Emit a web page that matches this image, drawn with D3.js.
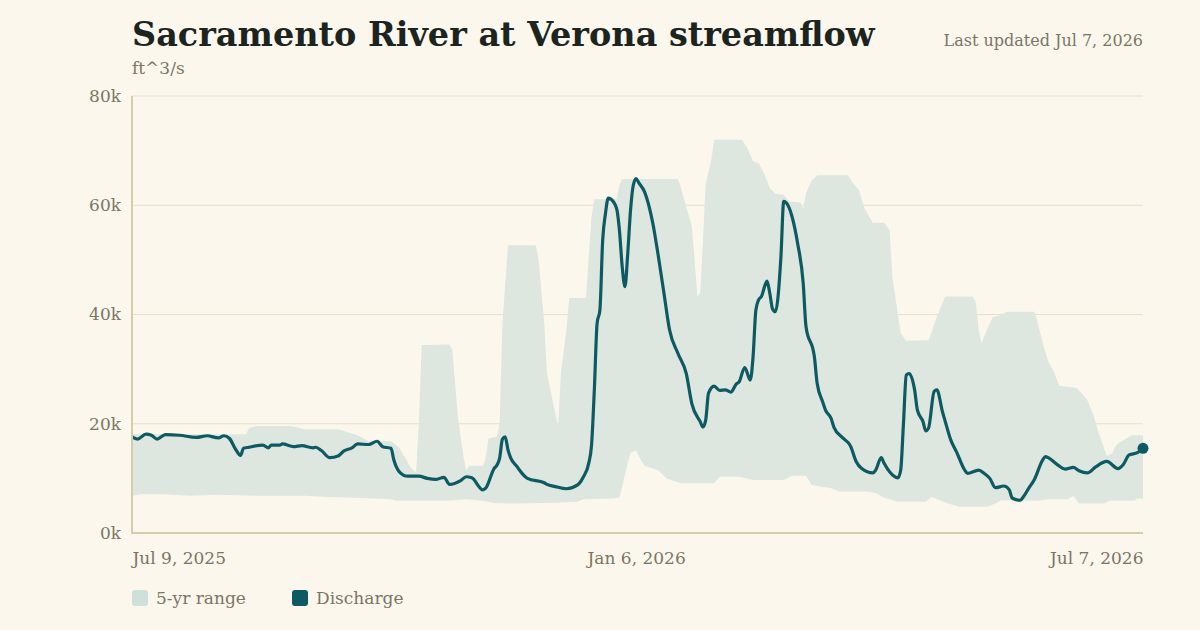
<!DOCTYPE html>
<html>
<head>
<meta charset="utf-8">
<title>Sacramento River at Verona streamflow</title>
<style>
html, body { margin:0; padding:0; background:#fbf7ed; overflow:hidden; }
svg { display:block; }
text { font-family: Georgia, "DejaVu Serif", serif; }
</style>
</head>
<body>
<svg id="stage" width="1200" height="630"></svg>
<script src="https://cdn.jsdelivr.net/npm/d3@7"></script>
<script>

// days since Jul 9, 2025 and discharge in ft^3/s
var startDate = "2025-07-09";
var flowDays = [0,2,5,7,9,12,17,23,27,31,33,35,37,39,40,42,47,49,50,53,54,58,61,65,66,68,71,74,76,79,81,85,88,90,93,94,96,99,103,106,109,112,114,118,120,122,126,127,130,131,132,133,134,135,136,138,141,142,148,149,152,156,160,162,164,165,166,167,168,169,170,171,172,174,175,176,177,178,179,180,181,182,184,187,189,191,193,196,199,201,204,205,206,207,209,211,213,215,217,218,220,222,223,224,225,226,228,229,230,231,233,234,235,237,239,241,242,245,246,248,249,251,252,255,258,260,262,266,267,269,270,272,275,276,277,278,279,281,282,284,285,286,288,289,291,292,294,296,299,300,304,306,308,310,313,315,316,319,320,322,324,327,328,329,332,335,338,340,343,346,350,354,356,358,361,363];
var flowCfs = [17600,17200,18100,17900,17200,18000,17900,17500,17800,17400,17800,17300,15500,14200,15500,15700,16100,15600,16100,16100,16300,15800,16000,15600,15700,15100,13800,14100,15000,15600,16300,16200,16800,15800,15500,13400,11200,10400,10400,10000,9800,10200,8900,9600,10300,10100,7900,8200,11800,12400,13700,17200,17600,15200,13700,12300,10400,10000,9200,8900,8500,8100,8800,10200,12800,16100,26200,38400,40800,53600,58500,61300,61100,59400,55500,48800,45100,51200,59100,63700,64900,64100,62500,56700,50600,43900,37200,32900,29200,23700,20400,19400,20700,25600,26900,26100,26200,25800,27300,27700,30300,28000,32300,40800,42700,43300,46100,43900,41000,40500,50600,60700,60400,57900,53000,45700,37800,32300,27400,24000,22500,21000,19400,17500,15900,13100,11800,11000,11500,13800,12800,11200,10100,11500,20100,28900,29200,26200,22500,20400,18700,19200,25900,26200,22200,20400,17000,14900,11500,10900,11500,10900,10000,8300,8600,7900,6400,6000,6600,8200,9800,13400,14000,13800,12600,11700,12000,11400,11000,12100,13100,11800,12600,14300,14700,15500];

// 5-yr range, upper and lower edges
var highDays = [0,34,41,42,45,57,62,74,81,85,93,96,100,102,103,104,114,115,117,119,120,121,126,127,128,131,132,133,135,145,146,148,149,151,153,154,156,157,163,164,165,166,174,175,176,196,197,199,201,202,203,204,205,206,208,209,219,221,223,225,227,229,231,234,236,240,241,242,244,246,257,259,261,263,266,270,272,273,276,278,286,287,289,291,292,302,303,304,305,307,309,312,314,324,325,327,329,331,333,339,341,343,345,347,349,350,352,353,354,357,359,363];
var highCfs = [18100,18100,18100,19200,19600,19600,19000,19000,17900,16800,16800,15600,12100,11000,20100,34400,34500,33500,21300,14000,11500,12300,12300,13700,17300,17600,20100,38400,52700,52700,50000,38400,29200,24300,19500,29200,37200,43000,43000,50600,57900,61100,61100,63700,64800,64800,63400,59700,56100,50000,43300,43900,53600,64000,68300,72000,72000,70400,68000,67700,65800,63100,62100,61900,60700,60500,59400,62200,64500,65500,65500,64000,62800,59400,56800,56800,55500,46900,36600,35200,35300,36600,39600,42100,43300,43300,42100,37200,34700,37200,39500,39900,40500,40500,39000,34700,31400,29500,26900,26600,25600,24300,21900,18500,15500,14100,14600,15800,16400,17300,17900,17900];
var lowDays = [0,3,11,21,30,45,62,71,83,93,95,113,120,126,130,137,149,160,162,173,175,176,178,179,181,182,184,189,192,197,209,211,218,223,234,237,242,244,251,254,264,267,270,275,285,287,290,293,297,307,310,312,325,329,336,338,340,349,351,360,361,363];
var lowCfs = [6800,7100,7100,6800,7000,6800,6800,6600,6400,6200,5900,5900,6200,5900,5500,5400,5500,5700,6200,6300,6500,8500,12800,14700,15100,14000,12300,11500,10000,9100,9100,10300,10300,9700,9700,10500,10500,8800,8200,7600,7600,7300,6500,5700,5700,6600,6000,5400,4800,4800,5400,6000,5900,6200,6200,6800,5400,5400,5900,5900,6300,6300];

var yTicks = [0, 20000, 40000, 60000, 80000];
var xTickDates = ["2025-07-09", "2026-01-06", "2026-07-07"];
var legendItems = ["5-yr range", "Discharge"];

var bg = "#fbf7ed", gridC = "#e9dfca", axisC = "#d8cba9", textC = "#7b7563",
    bandC = "#dde7df", lineC = "#0e5a62";

var parse = d3.timeParse("%Y-%m-%d");
var t0 = parse(startDate);
function toDate(d) { return d3.timeDay.offset(t0, d); }

var flow = flowDays.map(function(d, i) { return { date: toDate(d), v: flowCfs[i] }; });
var high = highDays.map(function(d, i) { return { date: toDate(d), v: highCfs[i] }; });
var low = lowDays.map(function(d, i) { return { date: toDate(d), v: lowCfs[i] }; });

var svg = d3.select("#stage");
var plotL = 132, plotR = 1143, plotT = 96, plotB = 533;

var x = d3.scaleTime()
    .domain([parse(xTickDates[0]), parse(xTickDates[2])])
    .range([plotL, plotR]);
var y = d3.scaleLinear().domain([0, 80000]).range([plotB, plotT]);

svg.append("rect").attr("width", 1200).attr("height", 630).attr("fill", bg);

// grid
svg.append("g").selectAll("line")
  .data(yTicks.slice(1))
  .enter().append("line")
    .attr("x1", plotL).attr("x2", plotR)
    .attr("y1", function(d) { return y(d); })
    .attr("y2", function(d) { return y(d); })
    .attr("stroke", gridC).attr("stroke-width", 1);

// band: upper edge forward, lower edge back
var bandPts = high.concat(low.slice().reverse());
var bandLine = d3.line()
    .x(function(d) { return x(d.date); })
    .y(function(d) { return y(d.v); });
svg.append("path")
    .attr("d", bandLine(bandPts) + "Z")
    .attr("fill", bandC);

// discharge
var line = d3.line()
    .curve(d3.curveMonotoneX)
    .x(function(d) { return x(d.date); })
    .y(function(d) { return y(d.v); });
svg.append("path")
    .datum(flow)
    .attr("d", line)
    .attr("fill", "none")
    .attr("stroke", lineC)
    .attr("stroke-width", 3.2)
    .attr("stroke-linejoin", "round");

var last = flow[flow.length - 1];
svg.append("circle")
    .attr("cx", x(last.date)).attr("cy", y(last.v))
    .attr("r", 5.5).attr("fill", lineC);

// axes lines
svg.append("line").attr("x1", plotL).attr("x2", plotL).attr("y1", plotT).attr("y2", plotB)
    .attr("stroke", axisC).attr("stroke-width", 2);
svg.append("line").attr("x1", plotL - 1).attr("x2", plotR).attr("y1", plotB).attr("y2", plotB)
    .attr("stroke", axisC).attr("stroke-width", 2);

// y labels
var yAxis = d3.axisLeft(y).tickValues(yTicks)
    .tickFormat(function(d) { return (d / 1000) + "k"; })
    .tickSize(0).tickPadding(11);
var gy = svg.append("g").attr("transform", "translate(" + plotL + ",0)").call(yAxis);
gy.select(".domain").remove();
gy.selectAll("text").attr("fill", textC).style("font-size", "17px")
    .style("font-family", 'Georgia, "DejaVu Serif", serif');

// x labels
var fmt = d3.timeFormat("%b %-d, %Y");
var xAxis = d3.axisBottom(x).tickValues(xTickDates.map(parse))
    .tickFormat(fmt).tickSize(0).tickPadding(19);
var gx = svg.append("g").attr("transform", "translate(0," + plotB + ")").call(xAxis);
gx.select(".domain").remove();
gx.selectAll("text").attr("fill", textC).style("font-size", "17px")
    .style("font-family", 'Georgia, "DejaVu Serif", serif')
    .attr("text-anchor", function(d, i) { return i == 0 ? "start" : (i == 2 ? "end" : "middle"); });

// titles
function fit(sel, w) {
  var s = parseFloat(sel.style("font-size"));
  var len = sel.node().getComputedTextLength();
  sel.style("font-size", (s * w / len) + "px");
}
var title = svg.append("text").attr("x", plotL).attr("y", 46)
    .attr("fill", "#1c2420").style("font-weight", "bold").style("font-size", "34px")
    .text("Sacramento River at Verona streamflow");
fit(title, 743);

svg.append("text").attr("x", plotL).attr("y", 74)
    .attr("fill", textC).style("font-size", "17px").text("ft^3/s");

svg.append("text").attr("x", plotR).attr("y", 46).attr("text-anchor", "end")
    .attr("fill", textC).style("font-size", "16px").text("Last updated Jul 7, 2026");

// legend
var lg = svg.append("g").attr("transform", "translate(" + plotL + ",590)");
var items = lg.selectAll("g").data(legendItems).enter().append("g")
    .attr("transform", function(d, i) { return "translate(" + (i * 160) + ",0)"; });
items.append("rect").attr("width", 16).attr("height", 16).attr("rx", 3)
    .attr("fill", function(d, i) { return i == 0 ? "#cfe0db" : lineC; });
items.append("text").attr("x", 24).attr("y", 13.5)
    .attr("fill", textC).style("font-size", "17px")
    .text(function(d) { return d; });

</script>
</body>
</html>
